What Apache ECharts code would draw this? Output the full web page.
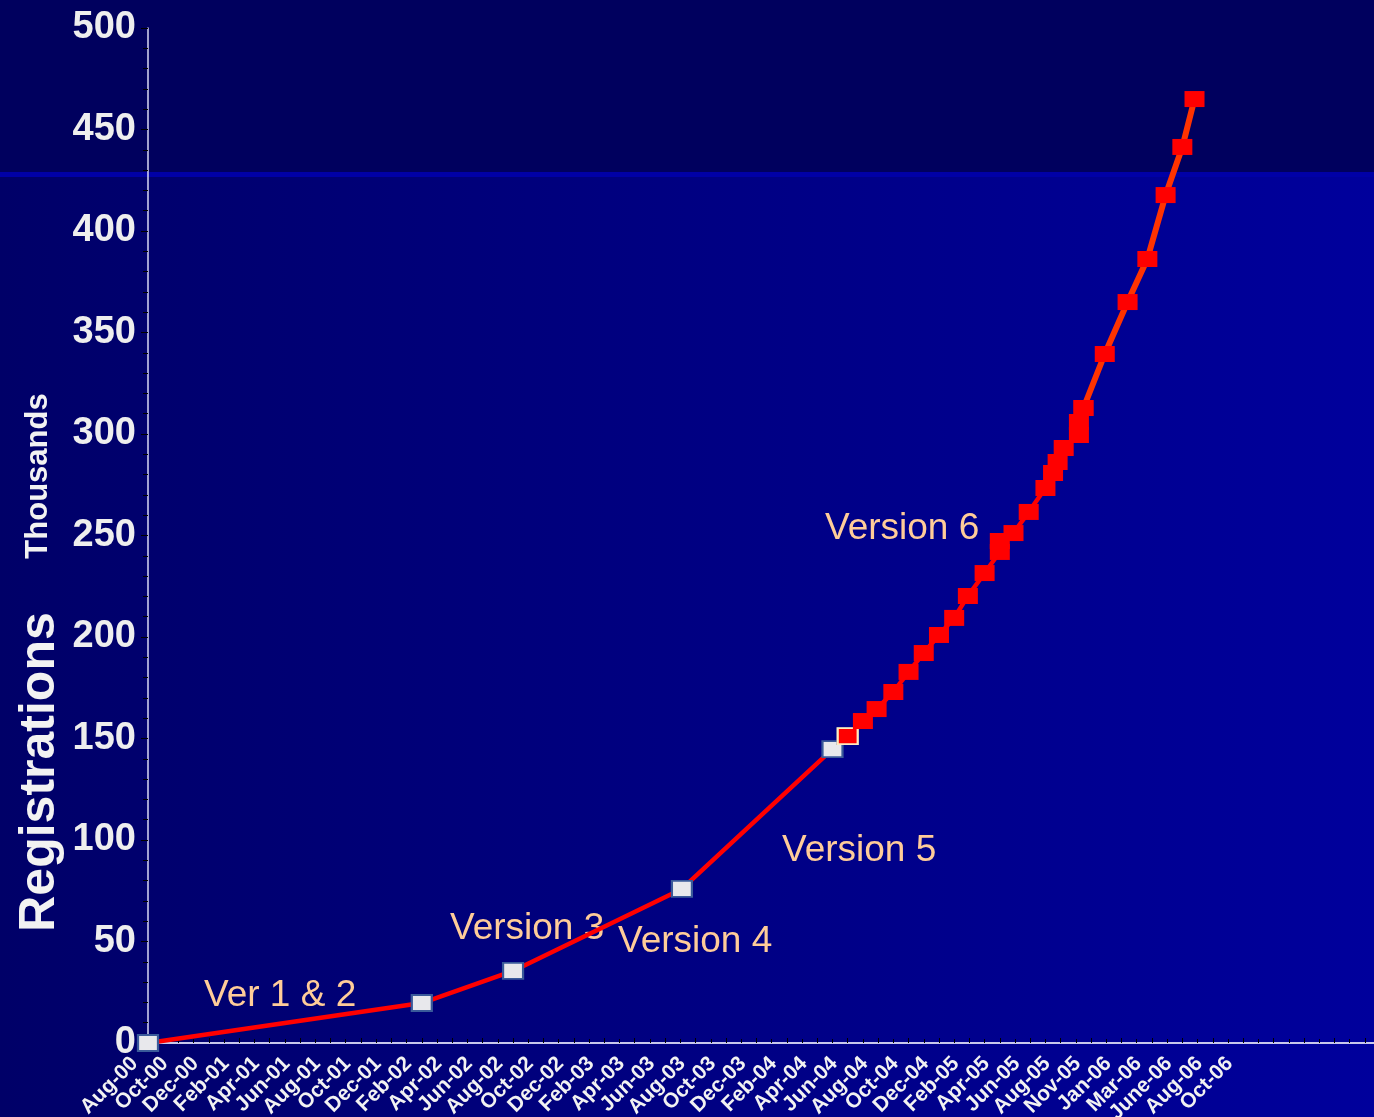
<!DOCTYPE html>
<html>
<head>
<meta charset="utf-8">
<style>
  html, body { margin: 0; padding: 0; background: #000070; }
  #chart { width: 1374px; height: 1117px; }
</style>
<script src="https://cdn.jsdelivr.net/npm/echarts@6/dist/echarts.min.js"></script>
</head>
<body>
<div id="chart"></div>
<script>
// ---- data (months since Aug-00, registrations in thousands) ----
const xLabels = ['Aug-00','Oct-00','Dec-00','Feb-01','Apr-01','Jun-01','Aug-01','Oct-01','Dec-01',
  'Feb-02','Apr-02','Jun-02','Aug-02','Oct-02','Dec-02','Feb-03','Apr-03','Jun-03','Aug-03','Oct-03',
  'Dec-03','Feb-04','Apr-04','Jun-04','Aug-04','Oct-04','Dec-04','Feb-05','Apr-05','Jun-05','Aug-05',
  'Nov-05','Jan-06','Mar-06','June-06','Aug-06','Oct-06'];
const months = [0, 18, 24, 35.1, 45, 46, 47, 47.9, 49, 50, 51, 52, 53, 53.9, 55, 56, 56, 56.9, 57.9,
  59, 59.5, 59.8, 60.2, 61.2, 61.2, 61.5, 62.9, 64.4, 65.7, 66.9, 68, 68.8];
const registrations = [0, 19.7, 35.5, 75.9, 144.8, 151.2, 158.6, 164.5, 172.9, 182.8, 192.1, 201.0,
  209.4, 220.2, 231.5, 241.9, 247.3, 251.2, 261.6, 273.4, 280.8, 286.2, 293.1, 299.5, 305.9, 312.8,
  339.4, 365.0, 386.2, 417.7, 441.4, 465.0];
const yTicks = [0, 50, 100, 150, 200, 250, 300, 350, 400, 450, 500];
const versionNotes = ['Ver 1 & 2', 'Version 3', 'Version 4', 'Version 5', 'Version 6'];

// index boundaries: end of early versions (white markers), start of steep orange segment
const v6Start = 5;
const steepStart = 25;

const pts = months.map((m, i) => [m, registrations[i]]);
const earlyPts = pts.slice(0, v6Start + 1);
const v6Pts = pts.slice(v6Start, steepStart + 1);
const steepPts = pts.slice(steepStart);

const chart = echarts.init(document.getElementById('chart'), null, { renderer: 'canvas' });

const noteStyle = { fill: '#FFCC99', font: '37px "Liberation Sans", Arial, sans-serif', textVerticalAlign: 'middle' };
const notePos = [[204, 996], [450, 929], [618, 942], [782, 851], [825, 529]];

const option = {
  animation: false,
  backgroundColor: {
    type: 'linear', x: 0, y: 0, x2: 1, y2: 0,
    colorStops: [{ offset: 0, color: '#000068' }, { offset: 1, color: '#00009C' }]
  },
  grid: { left: 148, right: 0, top: 28, bottom: 74, containLabel: false, outerBoundsMode: 'none' },
  graphic: [
    { type: 'rect', z: -10, silent: true, shape: { x: 0, y: 0, width: 1374, height: 172 }, style: { fill: '#00005E' } },
    { type: 'rect', z: -10, silent: true, shape: { x: 0, y: 172, width: 1374, height: 5 }, style: { fill: '#0000A6' } },
    { type: 'text', x: 40, y: 772, rotation: Math.PI / 2,
      style: { text: 'Registrations', fill: '#F2F2F2', font: 'bold 50px "Liberation Sans", Arial, sans-serif',
        textAlign: 'center', textVerticalAlign: 'middle', textShadowColor: '#000', textShadowOffsetX: 2, textShadowOffsetY: 2 } },
    { type: 'text', x: 38, y: 476, rotation: Math.PI / 2,
      style: { text: 'Thousands', fill: '#F2F2F2', font: 'bold 31px "Liberation Sans", Arial, sans-serif',
        textAlign: 'center', textVerticalAlign: 'middle', textShadowColor: '#000', textShadowOffsetX: 1, textShadowOffsetY: 1 } },
    ...versionNotes.map((t, i) => ({ type: 'text', x: notePos[i][0], y: notePos[i][1], z: 1,
      style: Object.assign({ text: t }, noteStyle) }))
  ],
  xAxis: {
    type: 'value', min: 0, max: 80.6, interval: 2,
    splitLine: { show: false },
    axisLine: { show: true, lineStyle: { color: '#C8C8EC', width: 2 } },
    axisTick: { show: true, inside: true, length: 5, lineStyle: { color: '#000000' } },
    minorTick: { show: true, splitNumber: 2, length: 4, lineStyle: { color: '#000000' } },
    axisLabel: {
      rotate: 45, margin: 4, interval: 0, padding: [0, 19, 0, 0],
      color: '#F2F2F2', fontWeight: 'bold', fontSize: 21, fontFamily: '"Liberation Sans", Arial, sans-serif',
      textShadowColor: '#333', textShadowOffsetX: 1, textShadowOffsetY: 1,
      showMaxLabel: false,
      formatter: v => (Number.isInteger(v / 2) && xLabels[v / 2]) ? xLabels[v / 2] : ''
    }
  },
  yAxis: {
    type: 'value', min: yTicks[0], max: yTicks[yTicks.length - 1], interval: 50,
    splitLine: { show: false },
    axisLine: { show: true, lineStyle: { color: '#D8D8F4', width: 1.5 } },
    axisTick: { show: true, length: 7, lineStyle: { color: '#000000' } },
    minorTick: { show: true, splitNumber: 5, length: 5, lineStyle: { color: '#000000' } },
    axisLabel: {
      margin: 12, color: '#EEEEEE', fontWeight: 'bold', fontSize: 38,
      fontFamily: '"Liberation Sans", Arial, sans-serif',
      textShadowColor: '#000000', textShadowOffsetX: 2, textShadowOffsetY: 2
    }
  },
  series: [
    {
      name: 'Versions 1-5', type: 'line', data: earlyPts, z: 3,
      symbol: 'rect', symbolSize: [20, 16], showAllSymbol: true,
      lineStyle: { color: '#FF0000', width: 4.5 },
      itemStyle: { color: '#E8E8EC', borderColor: '#3A5A9A', borderWidth: 2 }
    },
    {
      name: 'Version 6', type: 'line', z: 4,
      data: v6Pts.map((p, i) => i === 0
        ? { value: p, itemStyle: { color: '#FF0000', borderColor: '#FFEBC0', borderWidth: 2 } }
        : p),
      symbol: 'rect', symbolSize: [20, 16], showAllSymbol: true,
      lineStyle: { color: '#FF0000', width: 4.5 },
      itemStyle: { color: '#FF0000', borderWidth: 0 }
    },
    {
      name: 'Version 6 (recent)', type: 'line', data: steepPts, z: 5,
      symbol: 'rect', symbolSize: [20, 16], showAllSymbol: true,
      lineStyle: { color: '#FF3300', width: 6 },
      itemStyle: { color: '#FF0000', borderWidth: 0 }
    }
  ]
};
chart.setOption(option);
</script>
</body>
</html>
